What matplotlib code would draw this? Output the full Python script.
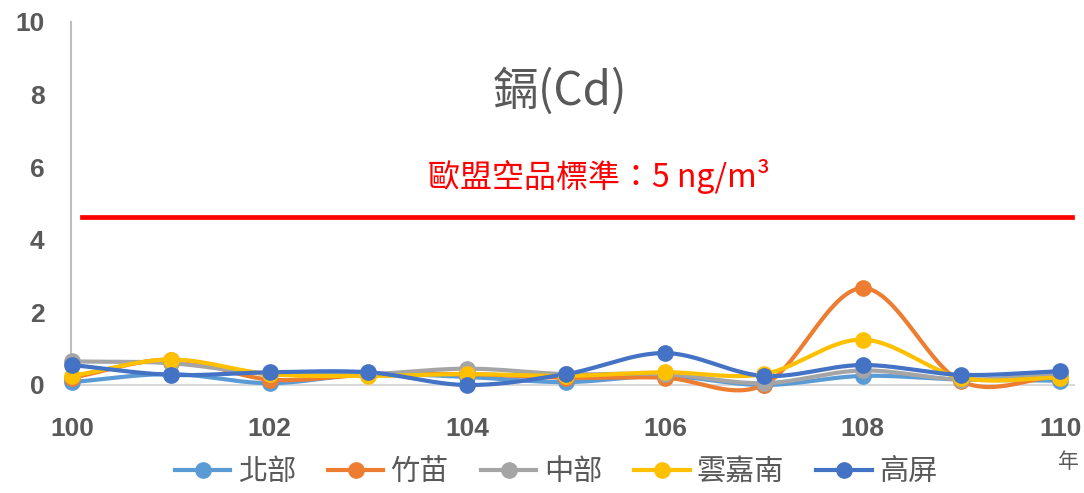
import matplotlib
matplotlib.use('Agg')
import matplotlib.pyplot as plt
import numpy as np

plt.rcParams['font.family'] = ['Noto Sans CJK TC', 'DejaVu Sans']
plt.rcParams['axes.unicode_minus'] = False

# 年度
years = [100, 101, 102, 103, 104, 105, 106, 107, 108, 109, 110]
# 各區域 鎘 濃度 (ng/m3)
north = [0.08, 0.3, 0.05, 0.3, 0.22, 0.08, 0.25, 0.0, 0.25, 0.15, 0.12]
zhumiao = [0.2, 0.7, 0.15, 0.28, 0.3, 0.2, 0.2, 0.0, 2.67, 0.1, 0.25]
central = [0.65, 0.6, 0.3, 0.3, 0.45, 0.3, 0.3, 0.05, 0.4, 0.15, 0.3]
yunjianan = [0.25, 0.7, 0.3, 0.25, 0.3, 0.25, 0.35, 0.3, 1.25, 0.2, 0.2]
gaoping = [0.55, 0.28, 0.35, 0.35, 0.0, 0.3, 0.88, 0.25, 0.55, 0.28, 0.38]
names = ['北部', '竹苗', '中部', '雲嘉南', '高屏']
colors = ['#5B9BD5', '#ED7D31', '#A5A5A5', '#FFC000', '#4472C4']
limit = 4.63


def smooth(x, y, n=30):
    # catmull-rom 보간 (엑셀 부드러운 선 흉내)
    x = np.asarray(x, float)
    y = np.asarray(y, float)
    px = np.concatenate([[2 * x[0] - x[1]], x, [2 * x[-1] - x[-2]]])
    py = np.concatenate([[2 * y[0] - y[1]], y, [2 * y[-1] - y[-2]]])
    xs, ys = [], []
    t = np.linspace(0, 1, n)
    for i in range(1, len(px) - 2):
        for p, out in ((px, xs), (py, ys)):
            p0, p1, p2, p3 = p[i - 1], p[i], p[i + 1], p[i + 2]
            out.extend(0.5 * ((2 * p1) + (-p0 + p2) * t
                              + (2 * p0 - 5 * p1 + 4 * p2 - p3) * t ** 2
                              + (-p0 + 3 * p1 - 3 * p2 + p3) * t ** 3))
    return np.array(xs), np.array(ys)


fig = plt.figure(figsize=(10.84, 4.93), dpi=100)
ax = fig.add_axes([71 / 1084, 108 / 493, 1003 / 1084, 363 / 493])

series = [north, zhumiao, central, yunjianan, gaoping]
for vals, c, nm in zip(series, colors, names):
    sx, sy = smooth(years, vals)
    ax.plot(sx, sy, color=c, lw=3, clip_on=False, zorder=3)
    ax.plot(years, vals, 'o', color=c, ms=11, clip_on=False, zorder=4)
    ax.plot([], [], '-o', color=c, lw=3, ms=11, label=nm)

ax.plot([100.1, 110.12], [limit, limit], color='#FF0000', lw=3.4, clip_on=False)

ax.set_xlim(99.99, 110.14)
ax.set_ylim(0, 10)
ax.set_xticks([100, 102, 104, 106, 108, 110])
ax.set_yticks([0, 2, 4, 6, 8, 10])
for lab in ax.get_xticklabels() + ax.get_yticklabels():
    lab.set_fontfamily('Liberation Sans')
    lab.set_fontweight('bold')
    lab.set_fontsize(19)
    lab.set_color('#595959')
ax.tick_params(axis='x', length=0, pad=23)
ax.tick_params(axis='y', length=0, pad=19)
for s in ['top', 'right']:
    ax.spines[s].set_visible(False)
ax.spines['left'].set_color('#BFBFBF')
ax.spines['left'].set_linewidth(1.5)
ax.spines['bottom'].set_color('#D9D9D9')
ax.spines['bottom'].set_linewidth(1.5)

fig.text(560 / 1084, 1 - 92 / 493, '鎘(Cd)', ha='center', va='center',
         fontsize=33, color='#595959')
fig.text(599 / 1084, 1 - 176 / 493, '歐盟空品標準：5 ng/m³',
         ha='center', va='center', fontsize=23, color='#FF0000')
fig.text(1068 / 1084, 1 - 462 / 493, '年', ha='center', va='center',
         fontsize=15, color='#595959')

fig.legend(loc='center', bbox_to_anchor=(0.513, 1 - 472 / 493), ncol=5,
           frameon=False, fontsize=21, handlelength=1.9, columnspacing=1.1,
           handletextpad=0.25, labelcolor='#595959')

plt.savefig('out.png', dpi=100)
